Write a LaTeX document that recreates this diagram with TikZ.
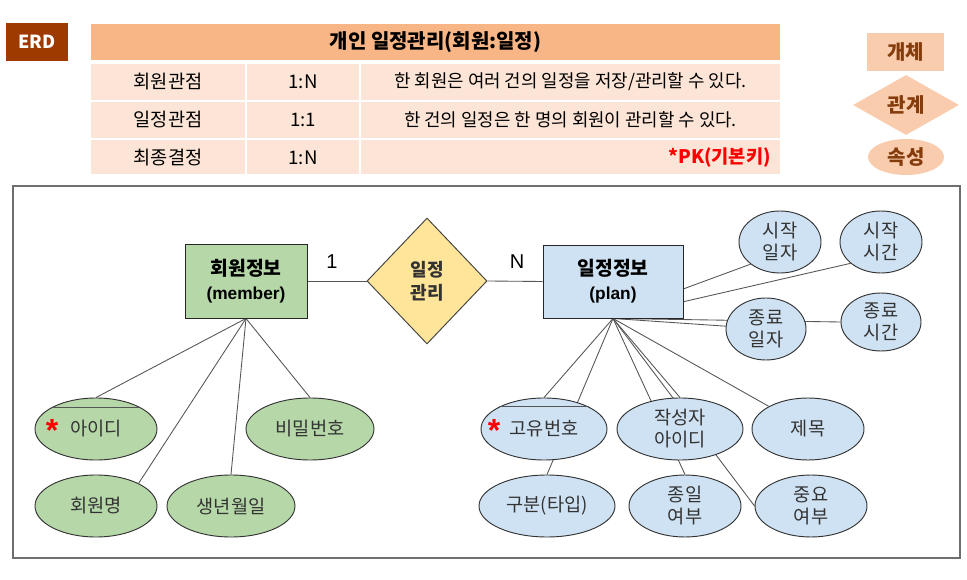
\documentclass[tikz,border=0pt]{standalone}
\usepackage{fontspec}
\setmainfont{Noto Sans CJK KR}
\newfontfamily\latinfont{Liberation Sans}
\usetikzlibrary{shapes.geometric,backgrounds}
\definecolor{erdbrown}{RGB}{158,58,0}
\definecolor{hdr}{RGB}{248,181,134}
\definecolor{cellc}{RGB}{252,229,214}
\definecolor{legfill}{RGB}{249,204,173}
\definecolor{legtext}{RGB}{132,60,12}
\definecolor{entg}{RGB}{182,215,168}
\definecolor{entb}{RGB}{207,226,243}
\definecolor{relc}{RGB}{255,229,153}
\definecolor{linec}{RGB}{85,85,85}
\definecolor{txt}{RGB}{51,51,51}
\definecolor{framec}{RGB}{110,110,110}
\begin{document}
\begin{tikzpicture}[x=0.75pt,y=-0.75pt,
  cell/.style={fill=cellc, inner sep=0pt, font=\fontsize{14}{16}\selectfont},
  sentence/.style={cell, font=\fontsize{13.4}{16}\selectfont},
  hdrcell/.style={fill=hdr, inner sep=0pt, font=\bfseries\fontsize{15}{17}\selectfont},
  entbox/.style={draw=black!85, line width=0.7pt, inner sep=0pt, align=center, font=\bfseries\fontsize{14.5}{18}\selectfont},
  attr/.style={ellipse, draw=black!80, line width=0.7pt, inner sep=0pt, align=center, text=txt, font=\fontsize{14}{16.5}\selectfont, minimum height=46.5pt},
  attrg/.style={attr, fill=entg},
  attrb/.style={attr, fill=entb},
  conn/.style={draw=linec, line width=0.65pt},
  pkstar/.style={text=red, font=\latinfont\bfseries\fontsize{24}{24}\selectfont, inner sep=0pt},
  legend/.style={text=legtext, inner sep=0pt, font=\bfseries\fontsize{15}{17}\selectfont},
  card/.style={inner sep=0pt, font=\latinfont\fontsize{15}{15}\selectfont}
]
\useasboundingbox (0,0) rectangle (967,580);

% ERD tag
\node[fill=erdbrown, text=white, inner sep=0pt, minimum width=46.5pt, minimum height=28.5pt, font=\bfseries\fontsize{13.5}{15}\selectfont] (erd) at (37,42) {ERD};

% table
\node[hdrcell, minimum width=516.75pt, minimum height=27pt] (title) at (435.5,42) {개인 일정관리(회원:일정)};
\node[cell, minimum width=115.5pt, minimum height=27pt] (r1c1) at (168,82) {회원관점};
\node[cell, minimum width=84pt, minimum height=27pt] (r1c2) at (303,82) {1:N};
\node[sentence, minimum width=314.25pt, minimum height=27pt] (r1c3) at (570.5,82) {한 회원은 여러 건의 일정을 저장/관리할 수 있다.};
\node[cell, minimum width=115.5pt, minimum height=27pt] (r2c1) at (168,120) {일정관점};
\node[cell, minimum width=84pt, minimum height=27pt] (r2c2) at (303,120) {1:1};
\node[sentence, minimum width=314.25pt, minimum height=27pt] (r2c3) at (570.5,120) {한 건의 일정은 한 명의 회원이 관리할 수 있다.};
\node[cell, minimum width=115.5pt, minimum height=25.5pt] (r3c1) at (168,157.5) {최종결정};
\node[cell, minimum width=84pt, minimum height=25.5pt] (r3c2) at (303,157.5) {1:N};
\node[cell, minimum width=314.25pt, minimum height=25.5pt] (r3c3) at (570.5,157.5) {};
\node[anchor=east, inner sep=0pt, text=red, font=\bfseries\fontsize{14}{15}\selectfont] (pk) at (771,157.5) {*PK(기본키)};

% legend
\node[legend, fill=legfill, minimum width=57.75pt, minimum height=28.5pt] (legent) at (905.5,52) {개체};
\node[legend, diamond, fill=legfill, minimum width=79.5pt, minimum height=45pt] (legrel) at (906,105) {관계};
\node[legend, ellipse, fill=legfill, minimum width=57pt, minimum height=27pt] (legattr) at (906,157) {속성};

% frame
\node[draw=framec, line width=1.1pt, minimum width=710.25pt, minimum height=279pt, inner sep=0pt] (frame) at (486.5,372) {};

% entities and relationship
\node[entbox, fill=entg, minimum width=91.5pt, minimum height=55.5pt] (member) at (246,281) {회원정보\\{\latinfont\fontsize{13}{15}\selectfont(member)}};
\node[entbox, fill=entb, minimum width=105pt, minimum height=54.75pt] (plan) at (613,281.5) {일정정보\\{\latinfont\fontsize{13}{15}\selectfont(plan)}};
\node[diamond, draw=black!75, line width=0.7pt, fill=relc, inner sep=0pt, minimum width=90pt, minimum height=94.5pt, align=center, font=\bfseries\fontsize{13.5}{17}\selectfont, text=txt] (rel) at (427,281) {일정\\관리};
\node[card] (one) at (332,262) {1};
\node[card] (many) at (517,262) {N};

% member attributes
\node[attrg, minimum width=91.5pt] (a1) at (96,429) {아이디};
\node[attrg, minimum width=96pt] (a2) at (310,429) {비밀번호};
\node[attrg, minimum width=91.5pt] (a3) at (96,506) {회원명};
\node[attrg, minimum width=96pt] (a4) at (231,506) {생년월일};

% plan attributes
\node[attrb, minimum width=61.5pt] (s1) at (780,242) {시작\\일자};
\node[attrb, minimum width=61.5pt] (s2) at (881,242) {시작\\시간};
\node[attrb, minimum width=60pt] (e1) at (766,329) {종료\\일자};
\node[attrb, minimum width=60pt, minimum height=43.5pt] (e2) at (881,322) {종료\\시간};
\node[attrb, minimum width=94.5pt] (p1) at (544,429) {고유번호};
\node[attrb, minimum width=94.5pt] (p2) at (680,429) {작성자\\아이디};
\node[attrb, minimum width=84pt] (p3) at (808,429) {제목};
\node[attrb, minimum width=102pt] (p4) at (547,506) {구분(타입)};
\node[attrb, minimum width=84pt] (p5) at (685,506) {종일\\여부};
\node[attrb, minimum width=84pt] (p6) at (811,506) {중요\\여부};

% PK marks
\draw[conn] (a1.155) -- (a1.25);
\draw[conn] (p1.154) -- (p1.26);
\node[pkstar] (star1) at (52,430) {*};
\node[pkstar] (star2) at (494,430) {*};

\begin{pgfonlayer}{background}
  \fill[white] (0,0) rectangle (967,580);
  \draw[conn] (member.east) -- (rel.west);
  \draw[conn] (rel.east) -- (plan.west);
  \draw[conn] (member.south) -- (a1.north);
  \draw[conn] (member.south) -- (a3.28);
  \draw[conn] (member.south) -- (a4.north);
  \draw[conn] (member.south) -- (a2.north);
  \draw[conn] (plan.-6) -- (s1.217);
  \draw[conn] (plan.-16) -- (s2.215);
  \draw[conn] (plan.south) -- (e1.176);
  \draw[conn] (plan.south) -- (e2.west);
  \draw[conn] (plan.south) -- (p1.north);
  \draw[conn] (plan.south) -- (p4.north);
  \draw[conn] (plan.south) -- (p2.north);
  \draw[conn] (plan.south) -- (p5.north);
  \draw[conn] (plan.south) -- (p6.west);
  \draw[conn] (plan.south) -- (p3.150);
\end{pgfonlayer}
\end{tikzpicture}
\end{document}
